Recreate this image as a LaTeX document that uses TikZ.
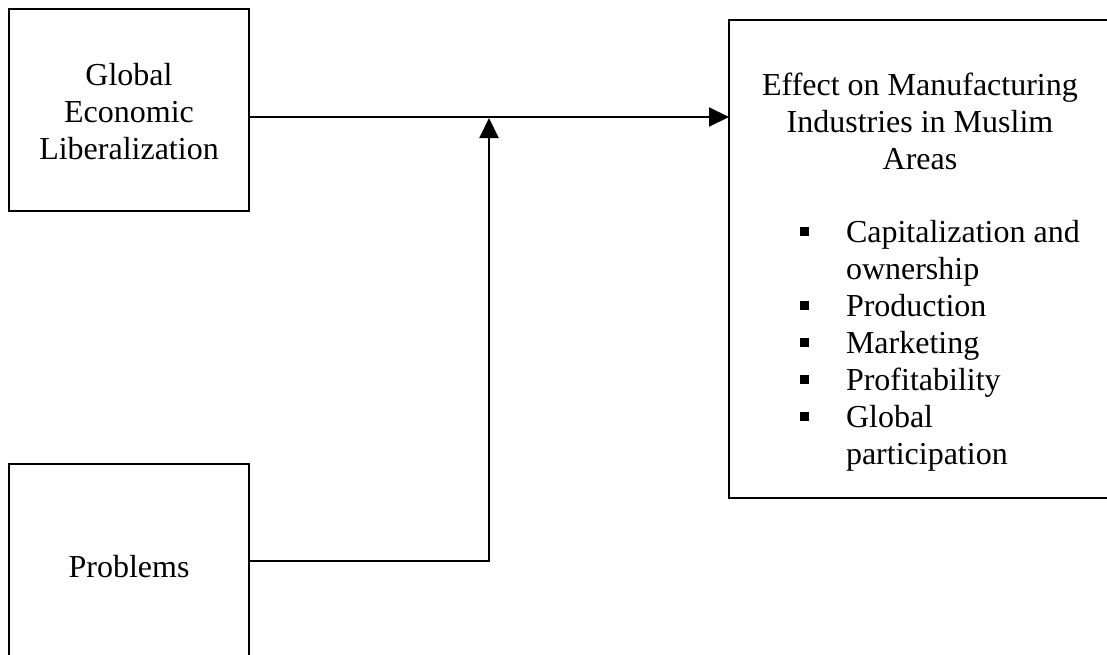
\documentclass[tikz,border=0pt]{standalone}
\usepackage{fontspec}
\setmainfont{Liberation Serif}
\usetikzlibrary{arrows.meta}
\newcommand\sqbul{\rule[6pt]{9pt}{9pt}}
\begin{document}
\begin{tikzpicture}[x=1pt,y=-1pt,
  box/.style={draw, line width=2pt, inner sep=0pt, outer sep=0pt, anchor=north west},
  txt/.style={inner sep=0pt, outer sep=0pt, font=\fontsize{32}{37.3}\selectfont},
  listtxt/.style={inner sep=0pt, outer sep=0pt, font=\fontsize{32}{37}\selectfont},
  link/.style={line width=2pt},
  arr/.style={link, -{Triangle[length=20pt,width=19pt]}}]
\useasboundingbox (0,0) rectangle (1107,654);
\clip (0,0) rectangle (1107,654);
% boxes
\node[box, minimum width=240pt, minimum height=202pt] (gel) at (9,9) {};
\node[box, minimum width=240pt, minimum height=194pt] (prob) at (9,464) {};
\node[box, minimum width=400pt, minimum height=478pt] (effect) at (729,20) {};
% texts
\node[txt, align=center, anchor=north] (gelText) at (129,59.1)
  {\strut Global\\\strut Economic\\\strut Liberalization};
\node[txt, anchor=base] (probText) at (129,577) {Problems};
\node[txt, align=center, anchor=north] (effTitle) at (920,69.1)
  {\strut Effect on Manufacturing\\\strut Industries in Muslim\\\strut Areas};
\node[listtxt, anchor=north west] (effList) at (800,216.1)
  {\begin{tabular}{@{}p{46pt}@{}l@{}}
   \sqbul & Capitalization and\\
          & ownership\\
   \sqbul & Production\\
   \sqbul & Marketing\\
   \sqbul & Profitability\\
   \sqbul & Global\\
          & participation
   \end{tabular}};
% connectors
\coordinate (junction) at (489,117);
\draw[arr] (gel.east |- junction) -- (effect.west |- junction);
\draw[arr, shorten >=1pt] (prob.east) -| (junction);
\end{tikzpicture}
\end{document}
